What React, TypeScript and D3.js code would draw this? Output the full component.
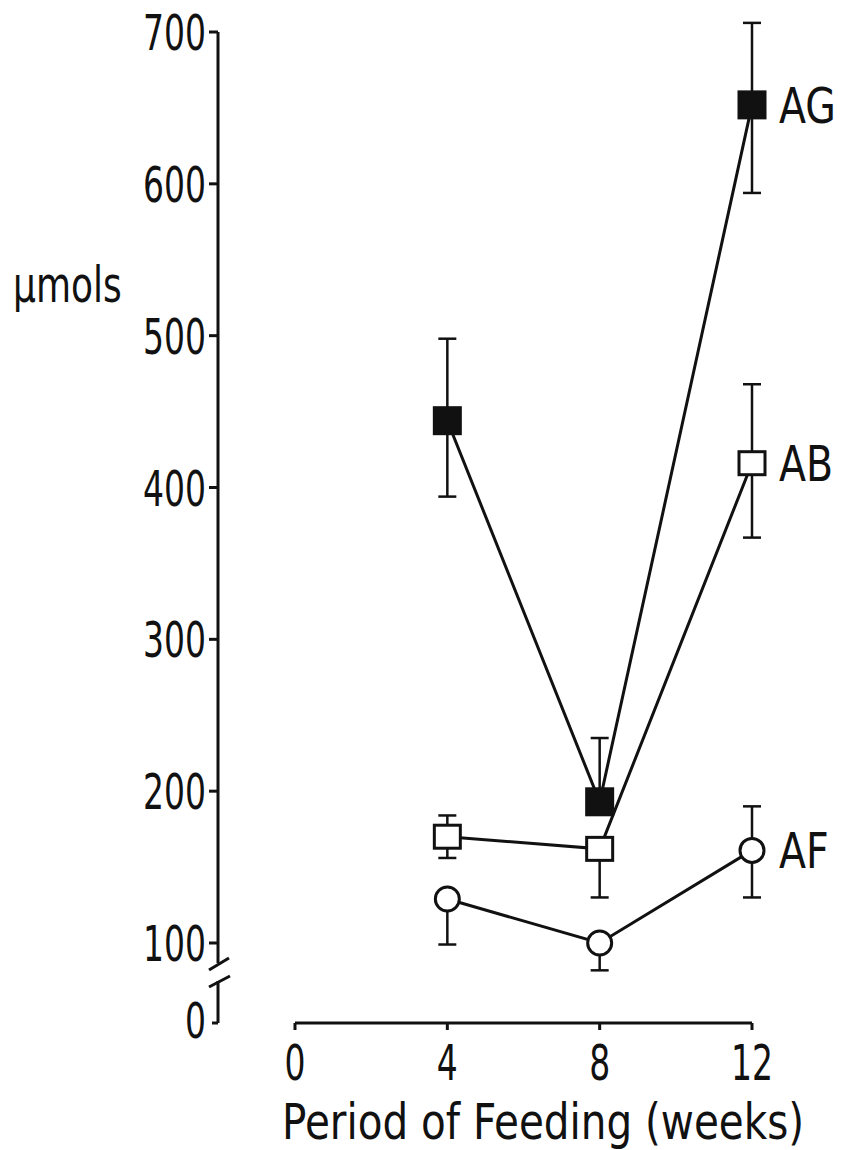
import * as d3 from "d3";

// weeks on the x axis
const weeks = [4, 8, 12];
const xTicks = [0, 4, 8, 12];
const yTicks = [100, 200, 300, 400, 500, 600, 700];

// mean values (µmols)
const agValues = [444, 193, 652];
const abValues = [170, 162, 416];
const afValues = [129, 100, 161];

// error bar ends, null where the bar is hidden in the original
const agUpper = [498, 235, 706];
const agLower = [394, null, 594];
const abUpper = [184, null, 468];
const abLower = [156, 130, 367];
const afUpper = [null, null, 190];
const afLower = [99, 82, 130];

const seriesNames = ["AG", "AB", "AF"];

const FONT = "'DejaVu Sans', sans-serif";
const FS = 50;

// narrow technical lettering: squeeze text horizontally around its anchor
function Txt({ x, y, sx, anchor = "start", dy = "0", children }: any) {
  return (
    <text
      transform={`translate(${x},${y}) scale(${sx},1)`}
      textAnchor={anchor}
      dy={dy}
      fontSize={FS}
      fill="#111"
    >
      {children}
    </text>
  );
}

export default function App() {
  const width = 841;
  const height = 1150;

  const axisX = 218; // y axis position
  const baseY = 1023; // x axis position (the broken "0" level)

  const x = d3.scaleLinear().domain([0, 12]).range([295, 752]);
  const y = d3.scaleLinear().domain([100, 700]).range([943, 32]);

  const series = [
    { name: seriesNames[0], values: agValues, upper: agUpper, lower: agLower, shape: "filled" },
    { name: seriesNames[1], values: abValues, upper: abUpper, lower: abLower, shape: "square" },
    { name: seriesNames[2], values: afValues, upper: afUpper, lower: afLower, shape: "circle" },
  ];

  const line = d3
    .line<number>()
    .x((d, i) => x(weeks[i]))
    .y((d) => y(d));

  const capHalf = 9;
  const half = 13;
  const y100 = y(100);

  return (
    <svg
      width={width}
      height={height}
      style={{ position: "absolute", left: 0, top: 0, background: "#fff" }}
      fontFamily={FONT}
    >
      {/* Y axis (upper part) */}
      <line x1={axisX} x2={axisX} y1={y(700)} y2={y100 + 20} stroke="#111" strokeWidth={3} />
      {yTicks.map((t) => (
        <g key={t}>
          <line x1={axisX - 9} x2={axisX} y1={y(t)} y2={y(t)} stroke="#111" strokeWidth={3} />
          <Txt x={206} y={y(t)} sx={0.66} anchor="end" dy="0.36em">
            {t}
          </Txt>
        </g>
      ))}

      {/* axis break */}
      <line x1={axisX - 9} x2={axisX + 11} y1={y100 + 27} y2={y100 + 15} stroke="#111" strokeWidth={3} />
      <line x1={axisX - 9} x2={axisX + 12} y1={y100 + 44} y2={y100 + 33} stroke="#111" strokeWidth={3} />
      <line x1={axisX} x2={axisX} y1={y100 + 38} y2={baseY} stroke="#111" strokeWidth={3} />
      <line x1={axisX - 6} x2={axisX} y1={baseY} y2={baseY} stroke="#111" strokeWidth={3} />
      <Txt x={206} y={baseY} sx={0.66} anchor="end" dy="0.3em">
        0
      </Txt>

      {/* Y label */}
      <Txt x={13} y={302} sx={0.72}>
        µmols
      </Txt>

      {/* X axis */}
      <line x1={x(0)} x2={x(12)} y1={baseY} y2={baseY} stroke="#111" strokeWidth={3} />
      {xTicks.map((t) => (
        <g key={t}>
          <line x1={x(t)} x2={x(t)} y1={baseY} y2={baseY + 7} stroke="#111" strokeWidth={3} />
          <Txt x={x(t)} y={1080} sx={0.66} anchor="middle">
            {t}
          </Txt>
        </g>
      ))}
      <Txt x={543} y={1139} sx={0.81} anchor="middle">
        Period of Feeding (weeks)
      </Txt>

      {/* error bars */}
      {series.map((s) =>
        s.values.map((v, i) => (
          <g key={s.name + i} stroke="#111" strokeWidth={2.5}>
            {s.upper[i] != null && (
              <>
                <line x1={x(weeks[i])} x2={x(weeks[i])} y1={y(v)} y2={y(s.upper[i] as number)} />
                <line
                  x1={x(weeks[i]) - capHalf}
                  x2={x(weeks[i]) + capHalf}
                  y1={y(s.upper[i] as number)}
                  y2={y(s.upper[i] as number)}
                />
              </>
            )}
            {s.lower[i] != null && (
              <>
                <line x1={x(weeks[i])} x2={x(weeks[i])} y1={y(v)} y2={y(s.lower[i] as number)} />
                <line
                  x1={x(weeks[i]) - capHalf}
                  x2={x(weeks[i]) + capHalf}
                  y1={y(s.lower[i] as number)}
                  y2={y(s.lower[i] as number)}
                />
              </>
            )}
          </g>
        ))
      )}

      {/* lines */}
      {series.map((s) => (
        <path key={s.name} d={line(s.values) || ""} fill="none" stroke="#111" strokeWidth={3} />
      ))}

      {/* markers */}
      {series.map((s) =>
        s.values.map((v, i) =>
          s.shape === "circle" ? (
            <circle
              key={s.name + i}
              cx={x(weeks[i])}
              cy={y(v)}
              r={12}
              fill="#fff"
              stroke="#111"
              strokeWidth={3}
            />
          ) : (
            <rect
              key={s.name + i}
              x={x(weeks[i]) - half}
              y={y(v) - half + (s.shape === "square" ? 1.5 : 0)}
              width={half * 2}
              height={half * 2 - (s.shape === "square" ? 3 : 0)}
              fill={s.shape === "filled" ? "#111" : "#fff"}
              stroke="#111"
              strokeWidth={3}
            />
          )
        )
      )}

      {/* series labels */}
      {series.map((s) => (
        <Txt key={s.name} x={x(12) + 27} y={y(s.values[2])} sx={0.79} dy="0.36em">
          {s.name}
        </Txt>
      ))}
    </svg>
  );
}
